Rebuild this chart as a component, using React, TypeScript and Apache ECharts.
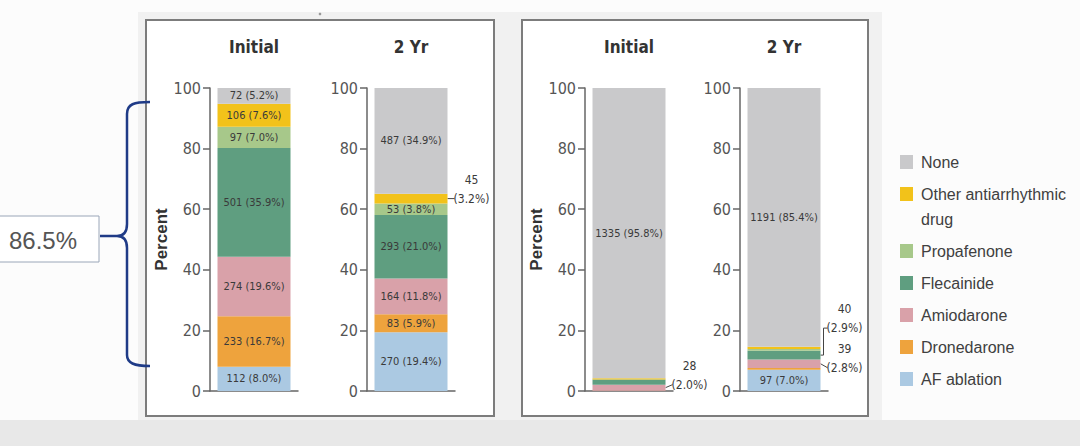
import React, { useEffect, useRef } from 'react';
import * as echarts from 'echarts';

// ---------- data ----------
const categories = ['AF ablation', 'Dronedarone', 'Amiodarone', 'Flecainide', 'Propafenone', 'Other antiarrhythmic drug', 'None'];
const legendLabels = ['AF ablation', 'Dronedarone', 'Amiodarone', 'Flecainide', 'Propafenone', 'Other antiarrhythmic\ndrug', 'None'];
const colors = ['#abc9e2', '#eea33d', '#d9a1a9', '#5f9e80', '#a7c88a', '#f2c21a', '#c9c9cb'];
const panelTitles = ['Initial', '2 Yr', 'Initial', '2 Yr'];
const yTicks = [0, 20, 40, 60, 80, 100];
const axisName = 'Percent';

const earlyInitialCounts = [112, 233, 274, 501, 97, 106, 72];
const earlyInitialPct = [8.0, 16.7, 19.6, 35.9, 7.0, 7.6, 5.2];
const early2yrCounts = [270, 83, 164, 293, 53, 45, 487];
const early2yrPct = [19.4, 5.9, 11.8, 21.0, 3.8, 3.2, 34.9];
const usualInitialCounts = [null, null, 28, null, null, null, 1335];
const usualInitialPct = [0.0, 0.1, 2.0, 1.7, 0.0, 0.4, 95.8];
const usual2yrCounts = [97, null, 39, 40, null, null, 1191];
const usual2yrPct = [7.0, 0.6, 2.8, 2.9, 0.6, 0.7, 85.4];

const bracketLabel = '86.5%';

// labels drawn outside bars: [panel, category index]
const outsideLabels = [
  [1, 5],
  [2, 2],
  [3, 3],
  [3, 2],
];

const panelCounts = [earlyInitialCounts, early2yrCounts, usualInitialCounts, usual2yrCounts];
const panelPct = [earlyInitialPct, early2yrPct, usualInitialPct, usual2yrPct];

// ---------- layout ----------
const NARROW = '"DejaVu Sans Condensed", "Liberation Sans Narrow", sans-serif';
const SANS = '"Liberation Sans", Arial, sans-serif';
const gridLefts = [210, 367, 585, 740];
const GRID_W = 88;
const GRID_TOP = 88;
const GRID_H = 303;
const BAR_W = 73;
// per outside label: vertical offset of text's 2nd line from segment middle, elbow leader
const outsideLayout = [
  { dy: 0, elbow: false },
  { dy: -3, elbow: false },
  { dy: -27, elbow: true },
  { dy: 4, elbow: false },
];

const bracePath =
  'M150,102 C134,102 127,104 127,114 L127,224 C127,232 124,236 117,236 L100,236 M117,236 C124,236 127,240 127,248 L127,355 C127,363 134,366 150,366';

function isOutside(p: number, k: number) {
  return outsideLabels.some(([a, b]) => a === p && b === k);
}

export default function App() {
  const ref = useRef<HTMLDivElement>(null);

  useEffect(() => {
    document.body.style.margin = '0';
    if (!ref.current) return;
    echarts.graphic.registerShape('brace', echarts.graphic.extendPath(bracePath, {}) as any);
    const chart = echarts.init(ref.current, undefined, { renderer: 'svg' });

    const grids = gridLefts.map((left) => ({ left, top: GRID_TOP, width: GRID_W, height: GRID_H }));
    const xAxes = gridLefts.map((_, i) => ({
      type: 'category',
      gridIndex: i,
      data: [''],
      axisLine: { show: true, lineStyle: { color: '#666', width: 1.5 } },
      axisTick: { show: false },
      axisLabel: { show: false },
    }));
    const yAxes = gridLefts.map((_, i) => ({
      type: 'value',
      gridIndex: i,
      min: yTicks[0],
      max: yTicks[yTicks.length - 1],
      interval: yTicks[1] - yTicks[0],
      name: i % 2 === 0 ? axisName : '',
      nameLocation: 'middle',
      nameGap: 40,
      nameRotate: 90,
      nameTextStyle: { fontFamily: SANS, fontSize: 17, fontWeight: 'bold', color: '#333' },
      splitLine: { show: false },
      axisLine: { show: true, lineStyle: { color: '#666', width: 1.5 } },
      axisTick: { show: true, length: 7, lineStyle: { color: '#666', width: 1.5 } },
      axisLabel: { fontFamily: NARROW, fontSize: 16, color: '#555', margin: 9 },
    }));

    const series: any[] = [];
    panelPct.forEach((pcts, p) => {
      categories.forEach((cat, k) => {
        const count = panelCounts[p][k];
        const showInside = count !== null && !isOutside(p, k);
        series.push({
          type: 'bar',
          name: cat,
          stack: 'panel' + p,
          xAxisIndex: p,
          yAxisIndex: p,
          barWidth: BAR_W,
          data: [pcts[k]],
          itemStyle: { color: colors[k] },
          label: {
            show: showInside,
            position: 'inside',
            formatter: `${count} (${pcts[k].toFixed(1)}%)`,
            fontFamily: NARROW,
            fontSize: 11,
            color: '#3a3a3a',
          },
        });
      });
    });

    chart.setOption({
      animation: false,
      backgroundColor: '#fcfcfc',
      grid: grids,
      xAxis: xAxes,
      yAxis: yAxes,
      series,
    });

    const g: any[] = [];
    // background frame
    g.push({ type: 'rect', z: -10, silent: true, shape: { x: 138, y: 12, width: 744, height: 410 }, style: { fill: '#f1f1f1' } });
    g.push({ type: 'rect', z: -9, silent: true, shape: { x: 146, y: 20, width: 348, height: 396 }, style: { fill: '#ffffff', stroke: '#7c7c7c', lineWidth: 2 } });
    g.push({ type: 'rect', z: -9, silent: true, shape: { x: 522, y: 20, width: 346, height: 396 }, style: { fill: '#ffffff', stroke: '#7c7c7c', lineWidth: 2 } });
    g.push({ type: 'rect', z: -8, silent: true, shape: { x: 0, y: 420, width: 1080, height: 26 }, style: { fill: '#e8e8e8' } });
    g.push({ type: 'circle', silent: true, shape: { cx: 320, cy: 14, r: 1.3 }, style: { fill: '#999' } });

    // panel titles
    panelTitles.forEach((t, p) => {
      const [cx] = chart.convertToPixel({ gridIndex: p } as any, [0, 0]) as number[];
      g.push({
        type: 'text',
        style: {
          text: t, x: cx, y: 47, fill: '#333', fontFamily: NARROW, fontSize: 17, fontWeight: 'bold',
          align: 'center', verticalAlign: 'middle', textAlign: 'center', textVerticalAlign: 'middle',
        },
      });
    });

    // outside labels with leader lines
    outsideLabels.forEach(([p, k], i) => {
      const pcts = panelPct[p];
      let below = 0;
      for (let j = 0; j < k; j++) below += pcts[j];
      const mid = below + pcts[k] / 2;
      const [cx, ym] = chart.convertToPixel({ gridIndex: p } as any, [0, mid]) as number[];
      const br = cx + BAR_W / 2;
      const lay = outsideLayout[i];
      const y2 = ym + lay.dy;
      const pts = lay.elbow
        ? [[br, ym], [br + 3, ym], [br + 3, y2], [br + 7, y2]]
        : [[br, ym], [br + 7, y2]];
      g.push({ type: 'polyline', shape: { points: pts }, style: { stroke: '#444', lineWidth: 1, fill: 'none' } });
      const tx = br + 24;
      g.push({
        type: 'text',
        style: {
          text: String(panelCounts[p][k]), x: tx, y: y2 - 19, fill: '#3a3a3a', fontFamily: NARROW, fontSize: 12,
          align: 'center', verticalAlign: 'middle', textAlign: 'center', textVerticalAlign: 'middle',
        },
      });
      g.push({
        type: 'text',
        style: {
          text: `(${pcts[k].toFixed(1)}%)`, x: tx, y: y2, fill: '#3a3a3a', fontFamily: NARROW, fontSize: 12,
          align: 'center', verticalAlign: 'middle', textAlign: 'center', textVerticalAlign: 'middle',
        },
      });
    });

    // legend (top to bottom: reverse of stacking order)
    let ly = 162;
    for (let k = categories.length - 1; k >= 0; k--) {
      g.push({ type: 'rect', shape: { x: 900, y: ly - 7, width: 13, height: 14 }, style: { fill: colors[k] } });
      const lines = legendLabels[k].split('\n');
      lines.forEach((ln, li) => {
        g.push({
          type: 'text',
          style: {
            text: ln, x: 921, y: ly + li * 25, fill: '#404040', fontFamily: SANS, fontSize: 16,
            align: 'left', verticalAlign: 'middle', textAlign: 'left', textVerticalAlign: 'middle',
          },
        });
      });
      ly += 32 + (lines.length - 1) * 25;
    }

    // bracket annotation
    g.push({ type: 'brace', x: 0, y: 0, style: { stroke: '#1f3b87', lineWidth: 2.5, fill: 'none' } });
    g.push({ type: 'rect', shape: { x: -1, y: 216, width: 100, height: 46 }, style: { fill: '#ffffff', stroke: '#9aa6b8', lineWidth: 1 } });
    g.push({
      type: 'text',
      style: {
        text: bracketLabel, x: 43, y: 240, fill: '#555', fontFamily: SANS, fontSize: 24,
        align: 'center', verticalAlign: 'middle', textAlign: 'center', textVerticalAlign: 'middle',
      },
    });

    chart.setOption({ graphic: g });

    return () => chart.dispose();
  }, []);

  return <div ref={ref} style={{ width: 1080, height: 446 }} />;
}
